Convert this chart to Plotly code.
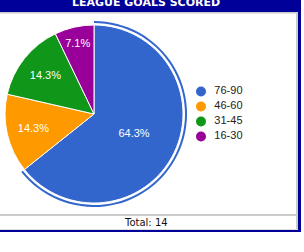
import plotly.graph_objects as go

# ---- data ----
labels = ["76-90", "46-60", "31-45", "16-30"]
values = [9, 2, 2, 1]
colors = ["#3366cc", "#ff9900", "#109618", "#990099"]
title_text = "LEAGUE GOALS SCORED"
total = sum(values)

W, H = 304, 252

def px(x):
    return x / W

def py(y):
    return 1 - y / H

fig = go.Figure()

# main pie
fig.add_trace(go.Pie(
    labels=labels, values=values, sort=False, direction="clockwise", rotation=0,
    marker=dict(colors=colors, line=dict(color="white", width=1)),
    texttemplate="%{percent:.1%}", textposition="inside", insidetextorientation="horizontal",
    textfont=dict(family="Liberation Sans, Arial", size=11, color="white"),
    domain=dict(x=[px(5), px(183)], y=[py(203), py(25)]),
    showlegend=False, hoverinfo="label+value+percent",
))

# highlight ring around the first slice
ring_colors = [colors[0]] + ["rgba(0,0,0,0)"] * (len(values) - 1)
fig.add_trace(go.Pie(
    labels=labels, values=values, sort=False, direction="clockwise", rotation=0,
    hole=91 / 93,
    marker=dict(colors=ring_colors, line=dict(width=0)),
    textinfo="none", hoverinfo="skip",
    domain=dict(x=[px(1), px(187)], y=[py(207), py(21)]),
    showlegend=False,
))

# legend drawn as a scatter on hidden axes
fig.add_trace(go.Scatter(
    x=[0] * len(labels), y=labels, mode="markers+text",
    marker=dict(color=colors, size=10, symbol="circle"),
    text=["  " + l for l in labels], textposition="middle right",
    textfont=dict(family="Liberation Sans, Arial", size=11, color="#222222"),
    showlegend=False, hoverinfo="skip", cliponaxis=False,
))

fig.update_xaxes(domain=[px(196), px(290)], range=[-5, 89], visible=False, fixedrange=True)
fig.update_yaxes(domain=[py(146), py(82)], type="category", categoryorder="array",
                 categoryarray=labels, autorange="reversed", visible=False, fixedrange=True)

shapes = [
    # header bar
    dict(type="rect", xref="paper", yref="paper", x0=0, x1=px(301), y0=py(12), y1=1,
         fillcolor="#000099", line=dict(width=0), layer="below"),
    # gray line under header
    dict(type="rect", xref="paper", yref="paper", x0=0, x1=px(298), y0=py(13.5), y1=py(12),
         fillcolor="#cccccc", line=dict(width=0), layer="below"),
    # gray right bar
    dict(type="rect", xref="paper", yref="paper", x0=px(296), x1=px(298), y0=py(230), y1=py(12),
         fillcolor="#cccccc", line=dict(width=0), layer="below"),
    # blue right border
    dict(type="rect", xref="paper", yref="paper", x0=px(298), x1=px(301), y0=py(232), y1=1,
         fillcolor="#000099", line=dict(width=0), layer="below"),
    # gray bottom line of chart area
    dict(type="rect", xref="paper", yref="paper", x0=0, x1=px(298), y0=py(216), y1=py(214),
         fillcolor="#cccccc", line=dict(width=0), layer="below"),
    # faint line above bottom border
    dict(type="rect", xref="paper", yref="paper", x0=0, x1=px(298), y0=py(230), y1=py(229),
         fillcolor="#dddddd", line=dict(width=0), layer="below"),
    # blue bottom border
    dict(type="rect", xref="paper", yref="paper", x0=0, x1=px(301), y0=py(232), y1=py(230),
         fillcolor="#000099", line=dict(width=0), layer="below"),
]

annotations = [
    dict(text=f"<b>{title_text}</b>", xref="paper", yref="paper", x=px(146), y=py(2.5),
         xanchor="center", yanchor="middle", showarrow=False,
         font=dict(family="DejaVu Sans, Verdana", size=11, color="white")),
    dict(text=f"Total: {total}", xref="paper", yref="paper", x=px(146), y=py(222.5),
         xanchor="center", yanchor="middle", showarrow=False,
         font=dict(family="DejaVu Sans, Verdana", size=10, color="#111111")),
]

fig.update_layout(
    width=W, height=H, margin=dict(l=0, r=0, t=0, b=0),
    paper_bgcolor="white", plot_bgcolor="rgba(0,0,0,0)",
    shapes=shapes, annotations=annotations, showlegend=False,
)

fig.write_html("out.html")
